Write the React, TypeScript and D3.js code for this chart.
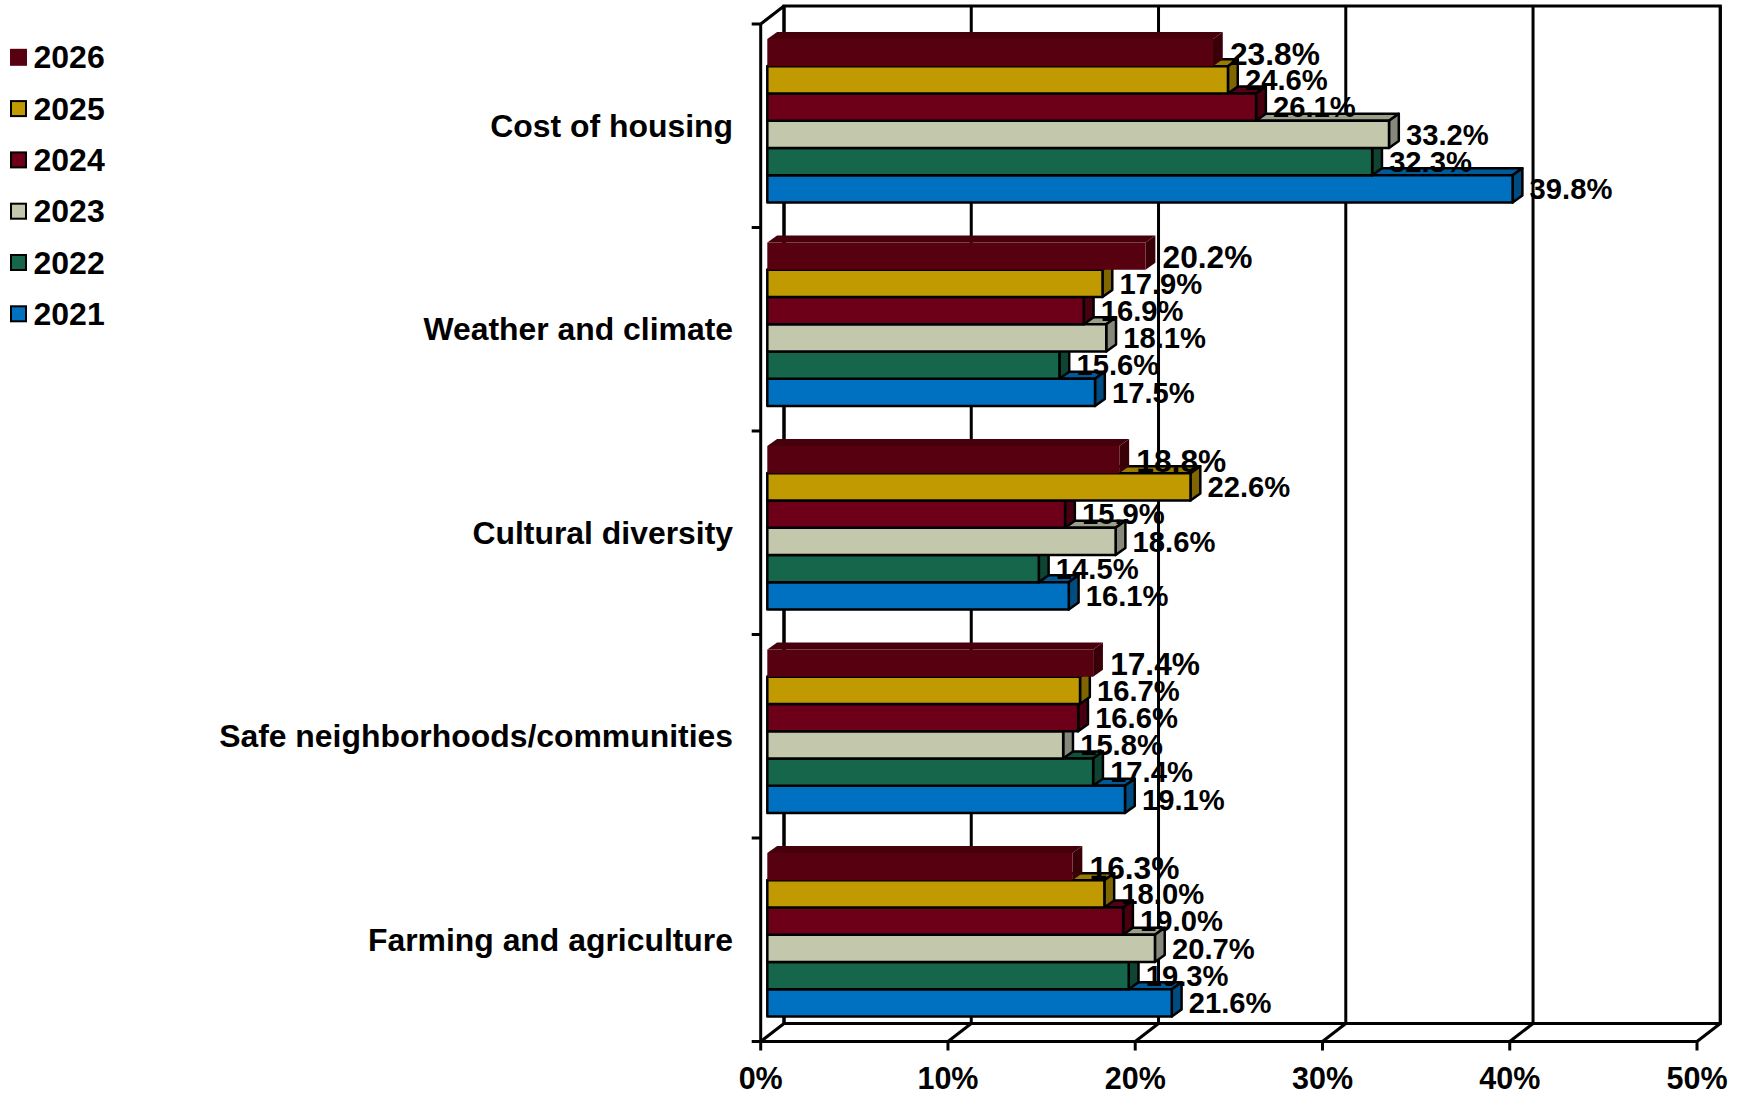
import React from "react";
import * as d3 from "d3";

const categories = ["Cost of housing", "Weather and climate", "Cultural diversity", "Safe neighborhoods/communities", "Farming and agriculture"];
const years = ["2026", "2025", "2024", "2023", "2022", "2021"];
const v2026 = [23.8, 20.2, 18.8, 17.4, 16.3];
const v2025 = [24.6, 17.9, 22.6, 16.7, 18.0];
const v2024 = [26.1, 16.9, 15.9, 16.6, 19.0];
const v2023 = [33.2, 18.1, 18.6, 15.8, 20.7];
const v2022 = [32.3, 15.6, 14.5, 17.4, 19.3];
const v2021 = [39.8, 17.5, 16.1, 19.1, 21.6];
const seriesValues = [v2026, v2025, v2024, v2023, v2022, v2021];
const fronts = ["#570010", "#c09a00", "#6d0018", "#c3c8ac", "#15664a", "#0070c0"];
const tops = ["#45000c", "#9a7b00", "#570013", "#9c9f89", "#11523b", "#005a9a"];
const sides = ["#3a0008", "#7f6600", "#480010", "#85887a", "#0e4431", "#004b80"];
const xTicks = [0, 10, 20, 30, 40, 50];

const FONT = "'Liberation Sans', Arial, sans-serif";
const DX = 23.3, DY = 18;
const bx = 9.8, by = 7;

export default function App() {
  const x0 = d3.scaleLinear().domain([0, 50]).range([760.7, 1697]);
  const xBar = d3.scaleLinear().domain([0, 50]).range([767.3, 1703.6]);
  const yCat = d3.scaleBand().domain(categories).range([24, 1041.5]);
  const ySer = d3.scaleBand().domain(years).range([15, 178.5]);
  const floor = 1041.5, topY = 24;
  const line = { stroke: "#000", strokeWidth: 3, fill: "none" };
  const ends = [...categories.map((c) => yCat(c)!), floor];
  const drawOrder = d3.range(years.length).reverse();

  return (
    <svg width={1740} height={1093} style={{ position: "fixed", left: 0, top: 0, background: "#fff" }} fontFamily={FONT} fontWeight="bold">
      {/* walls */}
      <rect x={x0(0) + DX} y={topY - DY} width={x0(50) - x0(0)} height={floor - topY} {...line} />
      <line x1={x0(0)} x2={x0(0)} y1={topY} y2={floor} {...line} />
      <line x1={x0(0)} x2={x0(50)} y1={floor} y2={floor} {...line} />
      <line x1={x0(0)} y1={topY} x2={x0(0) + DX} y2={topY - DY} {...line} />
      {ends.map((y, i) => (
        <line key={i} x1={x0(0) - 9} x2={x0(0)} y1={y} y2={y} {...line} />
      ))}
      {xTicks.map((t) => (
        <g key={t}>
          <line x1={x0(t) + DX} x2={x0(t) + DX} y1={topY - DY} y2={floor - DY} {...line} />
          <line x1={x0(t)} y1={floor} x2={x0(t) + DX} y2={floor - DY} {...line} />
          <line x1={x0(t)} x2={x0(t)} y1={floor} y2={floor + 9} {...line} />
          <text x={x0(t)} y={1088.5} textAnchor="middle" fontSize={30.5}>{t}%</text>
        </g>
      ))}
      {/* bars: the nearest series first, so each upper bar hides the top of the one below */}
      {categories.map((c, ci) => (
        <g key={c}>
          {drawOrder.map((si) => {
            const yr = years[si];
            const v = seriesValues[si][ci];
            const y = yCat(c)! + ySer(yr)!;
            const h = ySer.bandwidth();
            const l = xBar(0), r = xBar(v);
            const st = si === 0 ? { stroke: "none" } : { stroke: "#000", strokeWidth: 2.5, strokeLinejoin: "round" as const };
            return (
              <g key={yr}>
                <path d={`M${l},${y}L${l + bx},${y - by}H${r + bx}L${r},${y}Z`} fill={tops[si]} {...st} />
                <path d={`M${r},${y}L${r + bx},${y - by}V${y + h - by}L${r},${y + h}Z`} fill={sides[si]} {...st} />
                <rect x={l} y={y} width={r - l} height={h} fill={fronts[si]} {...st} />
              </g>
            );
          })}
        </g>
      ))}
      {/* labels */}
      {categories.map((c, ci) =>
        years.map((yr, si) => {
          const v = seriesValues[si][ci];
          const y = yCat(c)! + ySer(yr)! + ySer.bandwidth() / 2;
          return (
            <text key={yr} x={xBar(v) + 17} y={y + (si === 0 ? 12 : 10.3)} fontSize={si === 0 ? 31.7 : 29.2}>{v.toFixed(1)}%</text>
          );
        })
      )}
      {categories.map((c) => (
        <text key={c} x={733} y={yCat(c)! + yCat.bandwidth() / 2 + 11.2} textAnchor="end" fontSize={31.9}>{c}</text>
      ))}
      {/* legend */}
      {years.map((yr, i) => {
        const cy = 57.3 + i * 51.3;
        return (
          <g key={yr}>
            <rect x={i === 0 ? 10 : 11} y={cy - (i === 0 ? 8.5 : 7.5)} width={i === 0 ? 17 : 15} height={i === 0 ? 17 : 15} fill={fronts[i]} stroke={i === 0 ? "none" : "#000"} strokeWidth={2} />
            <text x={33.5} y={cy + 11} fontSize={32}>{yr}</text>
          </g>
        );
      })}
    </svg>
  );
}
